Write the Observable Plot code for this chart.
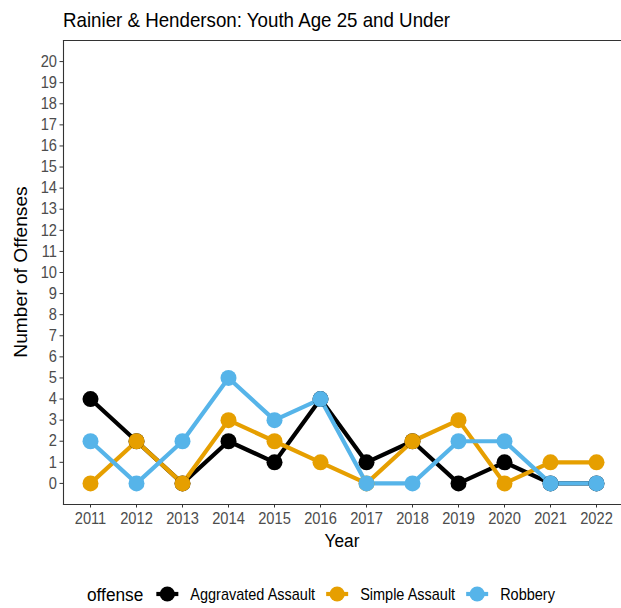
<!DOCTYPE html>
<html>
<head>
<meta charset="utf-8">
<script src="https://cdn.jsdelivr.net/npm/d3@7"></script>
<script src="https://cdn.jsdelivr.net/npm/@observablehq/plot@0.6"></script>
<style>
  html, body { margin: 0; padding: 0; background: #fff; }
  body { width: 621px; height: 608px; position: relative; overflow: hidden; font-family: "Liberation Sans", Arial, sans-serif; }
  #chart { position: absolute; left: 0; top: 0; }
  #over { position: absolute; left: 0; top: 0; pointer-events: none; }
</style>
</head>
<body>
<div id="chart"></div>
<svg id="over" width="621" height="608"></svg>
<script>
const years = [2011, 2012, 2013, 2014, 2015, 2016, 2017, 2018, 2019, 2020, 2021, 2022];
const offenses = ["Aggravated Assault", "Simple Assault", "Robbery"];
const colors = ["#000000", "#E69F00", "#56B4E9"];
const aggravatedAssault = [4, 2, 0, 2, 1, 4, 1, 2, 0, 1, 0, 0];
const simpleAssault     = [0, 2, 0, 3, 2, 1, 0, 2, 3, 0, 1, 1];
const robbery           = [2, 0, 2, 5, 3, 4, 0, 0, 2, 2, 0, 0];
const yTicks = d3.range(0, 21);

const seriesValues = [aggravatedAssault, simpleAssault, robbery];
const data = [];
offenses.forEach((o, i) => years.forEach((y, j) => data.push({offense: o, year: y, count: seriesValues[i][j]})));

const SQ = 0.9; // horizontal squash of glyphs seen in the reference
function squash(sel) {
  sel.each(function() {
    const L = this.getComputedTextLength();
    if (L > 0) {
      this.setAttribute("textLength", L * SQ);
      this.setAttribute("lengthAdjust", "spacingAndGlyphs");
    }
  });
}
function widthOf(sel) {
  const n = sel.node();
  const tl = n.getAttribute("textLength");
  return tl ? +tl : n.getComputedTextLength();
}

const plot = Plot.plot({
  width: 621,
  height: 560,
  marginTop: 40,
  marginBottom: 56,
  marginLeft: 63,
  marginRight: 0,
  style: {fontFamily: "Liberation Sans, Arial, sans-serif", background: "transparent"},
  x: {domain: [2011, 2022], range: [90, 596], label: null},
  y: {domain: [-1, 21], label: null},
  color: {domain: offenses, range: colors},
  marks: [
    Plot.frame({anchor: "top", stroke: "#333", strokeWidth: 1.1}),
    Plot.frame({anchor: "left", stroke: "#333", strokeWidth: 1.1}),
    Plot.frame({anchor: "bottom", stroke: "#333", strokeWidth: 1.1}),
    Plot.axisY(yTicks, {tickSize: 3.5, tickPadding: 3, fontSize: 16.3, fill: "#4D4D4D", stroke: "#333", label: null}),
    Plot.axisX(years, {tickSize: 3.5, tickPadding: 4, fontSize: 16.3, fill: "#4D4D4D", stroke: "#333", tickFormat: d => String(d), label: null}),
    Plot.line(data, {x: "year", y: "count", z: "offense", stroke: "offense", strokeWidth: 4.2, strokeLinejoin: "round", strokeLinecap: "butt"}),
    Plot.dot(data, {x: "year", y: "count", fill: "offense", r: 8, stroke: null})
  ]
});
document.getElementById("chart").appendChild(plot);
squash(d3.select(plot).selectAll("text"));

const over = d3.select("#over");
// title
over.append("text").attr("x", 63).attr("y", 26.5).attr("font-size", 20.8).attr("fill", "#000")
  .text("Rainier & Henderson: Youth Age 25 and Under").call(squash);
// axis titles
over.append("text").attr("x", 342).attr("y", 547).attr("text-anchor", "middle")
  .attr("font-size", 19.2).attr("fill", "#000").text("Year").call(squash);
over.append("text").attr("transform", "translate(27,272) rotate(-90)").attr("text-anchor", "middle")
  .attr("font-size", 19.2).attr("fill", "#000").text("Number of Offenses");

// legend
const ly = 594;
let lx = 87;
const lt = over.append("text").attr("x", lx).attr("y", ly + 6.8).attr("font-size", 19.2).attr("fill", "#000").text("offense");
squash(lt);
lx += widthOf(lt) + 13;
offenses.forEach((o, i) => {
  over.append("line").attr("x1", lx).attr("x2", lx + 22).attr("y1", ly).attr("y2", ly)
    .attr("stroke", colors[i]).attr("stroke-width", 4.2);
  over.append("circle").attr("cx", lx + 11).attr("cy", ly).attr("r", 7.6).attr("fill", colors[i]);
  lx += 22 + 12;
  const t = over.append("text").attr("x", lx).attr("y", ly + 5.8).attr("font-size", 16.1).attr("fill", "#000").text(o);
  squash(t);
  lx += widthOf(t) + 11;
});
</script>
</body>
</html>
